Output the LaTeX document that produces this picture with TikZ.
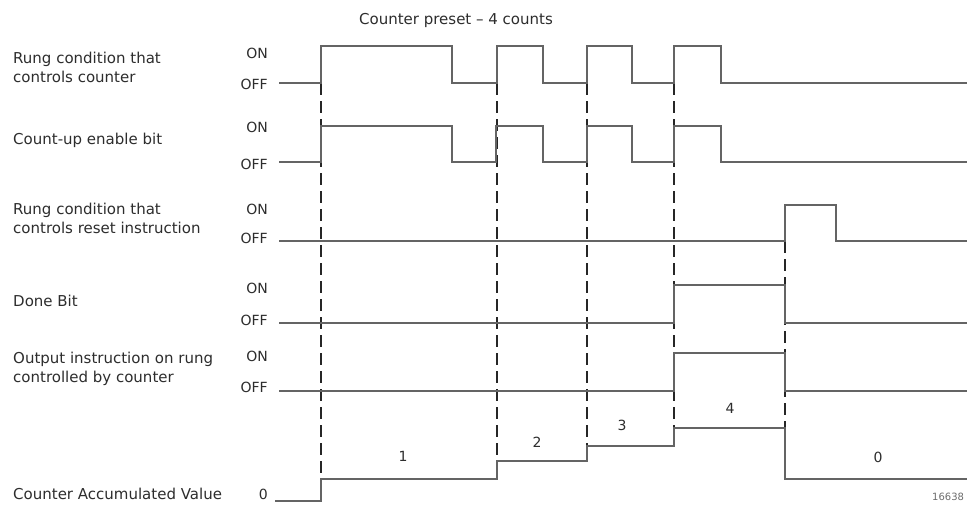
\documentclass[tikz,border=0pt]{standalone}
\usepackage{fontspec}
\setmainfont{DejaVu Sans}
\definecolor{txt}{RGB}{45,45,45}
\definecolor{wave}{RGB}{100,100,100}
\begin{document}
\begin{tikzpicture}[x=1pt,y=-1pt,
  lbl/.style={font=\fontsize{15}{19}\selectfont, text=txt, anchor=west, align=left, inner sep=0pt},
  onoff/.style={font=\fontsize{14}{16}\selectfont, text=txt, anchor=east, inner sep=0pt},
  num/.style={font=\fontsize{14}{16}\selectfont, text=txt, inner sep=0pt},
  wv/.style={draw=wave, line width=1.4pt, line join=miter},
  dsh/.style={draw=black!85, line width=1.4pt, dash pattern=on 12pt off 6pt}]
\useasboundingbox[fill=white] (0,0) rectangle (967,504);

% title
\node[lbl, anchor=center] (title) at (456,20) {Counter preset – 4 counts};

% left labels
\node[lbl] (l1) at (13,67.5) {Rung condition that\\controls counter};
\node[lbl] (l2) at (13,140) {Count-up enable bit};
\node[lbl] (l3) at (13,218.5) {Rung condition that\\controls reset instruction};
\node[lbl] (l4) at (13,301) {Done Bit};
\node[lbl] (l5) at (13,368.5) {Output instruction on rung\\controlled by counter};
\node[lbl] (l6) at (13,494) {Counter Accumulated Value};

% ON / OFF
\node[onoff] (on1) at (268,53) {ON};
\node[onoff] (off1) at (268,84) {OFF};
\node[onoff] (on2) at (268,127) {ON};
\node[onoff] (off2) at (268,164) {OFF};
\node[onoff] (on3) at (268,209) {ON};
\node[onoff] (off3) at (268,238) {OFF};
\node[onoff] (on4) at (268,288) {ON};
\node[onoff] (off4) at (268,320) {OFF};
\node[onoff] (on5) at (268,356) {ON};
\node[onoff] (off5) at (268,387) {OFF};
\node[onoff] (zero) at (268,494) {0};

% dashed timing lines
\draw[dsh] (321,83) -- (321,479);
\draw[dsh] (497,83) -- (497,461);
\draw[dsh] (587,83) -- (587,446);
\draw[dsh] (674,83) -- (674,428);
\draw[dsh] (785,241) -- (785,428);

% waveforms
\draw[wv] (279,83) -- (321,83) -- (321,46) -- (452,46) -- (452,83) -- (497,83) -- (497,46) -- (543,46) -- (543,83) -- (587,83) -- (587,46) -- (632,46) -- (632,83) -- (674,83) -- (674,46) -- (721,46) -- (721,83) -- (967,83);
\draw[wv] (279,162) -- (321,162) -- (321,126) -- (452,126) -- (452,162) -- (496,162) -- (496,126) -- (543,126) -- (543,162) -- (587,162) -- (587,126) -- (632,126) -- (632,162) -- (674,162) -- (674,126) -- (721,126) -- (721,162) -- (967,162);
\draw[wv] (279,241) -- (785,241) -- (785,205) -- (836,205) -- (836,241) -- (967,241);
\draw[wv] (279,323) -- (674,323) -- (674,285) -- (785,285) -- (785,323) -- (967,323);
\draw[wv] (279,391) -- (674,391) -- (674,353) -- (785,353) -- (785,391) -- (967,391);
\draw[wv] (275,501) -- (321,501) -- (321,479) -- (497,479) -- (497,461) -- (587,461) -- (587,446) -- (674,446) -- (674,428) -- (785,428) -- (785,479) -- (967,479);

% count values
\node[num] (n1) at (403,456) {1};
\node[num] (n2) at (537,442) {2};
\node[num] (n3) at (622,425) {3};
\node[num] (n4) at (730,408) {4};
\node[num] (n0) at (878,457) {0};

\node[font=\fontsize{10}{12}\selectfont, text=txt!70, anchor=west, inner sep=0pt] (fig) at (932,497) {16638};
\end{tikzpicture}
\end{document}
